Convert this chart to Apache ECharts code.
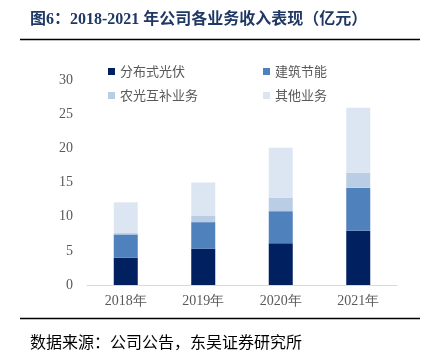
<!DOCTYPE html>
<html>
<head>
<meta charset="utf-8">
<script src="https://cdn.jsdelivr.net/npm/echarts@6/dist/echarts.min.js"></script>
<style>
  html, body { margin: 0; padding: 0; background: #fff; }
  #chart { width: 427px; height: 351px; }
</style>
</head>
<body>
<div id="chart"></div>
<script>
// 数据
var years = ['2018年', '2019年', '2020年', '2021年'];
var distributedPV = [4.0, 5.3, 6.1, 7.95];
var buildingEnergy = [3.4, 3.9, 4.7, 6.3];
var agriPV = [0.2, 0.9, 2.0, 2.2];
var otherBiz = [4.5, 4.9, 7.3, 9.5];

var seriesNames = ['分布式光伏', '建筑节能', '农光互补业务', '其他业务'];
var seriesData = [distributedPV, buildingEnergy, agriPV, otherBiz];
var colors = ['#002060', '#4F81BD', '#B9CDE5', '#DCE6F2'];

var cjk = '"Noto Sans CJK SC", sans-serif';
var serif = '"Liberation Serif", "DejaVu Serif", serif';

var chart = echarts.init(document.getElementById('chart'));

// 图例位置：两列两行
var legendPos = [
  { left: 103, top: 60 },
  { left: 258, top: 60 },
  { left: 103, top: 84 },
  { left: 258, top: 84 }
];

var option = {
  animation: false,
  color: colors,
  grid: { left: 87, right: 30, top: 80, bottom: 66 },
  legend: seriesNames.map(function (name, i) {
    return {
      data: [name],
      left: legendPos[i].left,
      top: legendPos[i].top,
      icon: 'rect',
      itemWidth: 7,
      itemHeight: 7,
      itemGap: 5,
      textStyle: { fontFamily: cjk, fontSize: 13, color: '#595959' }
    };
  }),
  xAxis: {
    type: 'category',
    data: years,
    axisLine: { lineStyle: { color: '#D9D9D9', width: 1 } },
    axisTick: { show: false },
    axisLabel: { fontFamily: serif, fontSize: 14, color: '#595959', margin: 9 }
  },
  yAxis: {
    type: 'value',
    min: 0,
    max: 30,
    interval: 5,
    splitLine: { show: false },
    axisLine: { show: false },
    axisTick: { show: false },
    axisLabel: { fontFamily: serif, fontSize: 14, color: '#595959', margin: 14 }
  },
  series: seriesNames.map(function (name, i) {
    return {
      name: name,
      type: 'bar',
      stack: 'total',
      barWidth: 24,
      data: seriesData[i],
      itemStyle: { color: colors[i] }
    };
  }),
  graphic: [
    {
      type: 'text', left: 30, top: 12,
      style: {
        text: '图6：2018-2021 年公司各业务收入表现（亿元）',
        font: 'bold 16px ' + serif + ', ' + cjk,
        fill: '#1F3864'
      }
    },
    {
      type: 'line',
      shape: { x1: 20, y1: 39.5, x2: 420, y2: 39.5 },
      style: { stroke: '#000', lineWidth: 1.5 }
    },
    {
      type: 'line',
      shape: { x1: 20, y1: 318.5, x2: 420, y2: 318.5 },
      style: { stroke: '#000', lineWidth: 1.5 }
    },
    {
      type: 'text', left: 30, top: 334,
      style: {
        text: '数据来源：公司公告，东吴证券研究所',
        font: '16px ' + cjk,
        fill: '#000'
      }
    }
  ]
};

chart.setOption(option);
</script>
</body>
</html>
